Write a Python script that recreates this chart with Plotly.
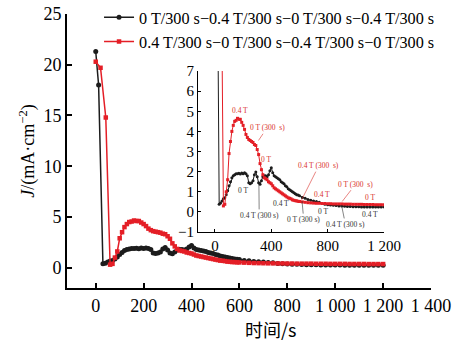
import plotly.graph_objects as go

# ---- data ----
t_black = [0, 12, 30, 40, 50, 60, 70, 80, 90, 100, 110, 120, 130, 140, 150, 160, 170, 180, 190, 200,
           210, 220, 230, 240, 250, 260, 270, 280, 290, 300, 310, 320, 330, 340, 350, 360, 370, 380,
           390, 400, 410, 420, 430, 440, 450, 460, 470, 480, 490, 500, 510, 520, 530, 540, 550, 560,
           570, 580, 590, 600, 620, 640, 660, 680, 700, 720, 740, 760, 780, 800, 820, 840, 860, 880,
           900, 920, 940, 960, 980, 1000, 1020, 1040, 1060, 1080, 1100, 1120, 1140, 1160, 1180, 1200]
j_black = [21.3, 18.0, 0.38, 0.45, 0.55, 0.65, 0.70, 0.85, 1.05, 1.30, 1.50, 1.70, 1.80, 1.85, 1.90,
           1.90, 1.92, 1.88, 1.93, 1.90, 1.95, 1.90, 1.80, 1.45, 1.40, 1.45, 1.55, 1.85, 1.98, 1.75,
           1.45, 1.38, 1.55, 1.75, 1.80, 1.80, 1.75, 1.85, 2.05, 2.20, 1.95, 1.80, 1.75, 1.70, 1.65,
           1.60, 1.50, 1.45, 1.40, 1.30, 1.25, 1.15, 1.10, 1.05, 1.00, 0.95, 0.90, 0.86, 0.84, 0.80,
           0.72, 0.68, 0.62, 0.58, 0.55, 0.52, 0.48, 0.42, 0.38, 0.36, 0.34, 0.33, 0.32, 0.30, 0.29,
           0.28, 0.27, 0.27, 0.26, 0.26, 0.26, 0.25, 0.25, 0.25, 0.25, 0.25, 0.25, 0.25, 0.25, 0.25]

t_red = [0, 20, 42, 60, 70, 80, 90, 100, 110, 120, 130, 140, 150, 160, 170, 180, 190, 200, 210, 220,
         230, 240, 250, 260, 270, 280, 290, 300, 310, 320, 330, 340, 350, 360, 370, 380, 390, 400,
         410, 420, 430, 440, 450, 460, 470, 480, 490, 500, 510, 520, 530, 540, 550, 560, 570, 580,
         590, 600, 620, 640, 660, 680, 700, 720, 740, 760, 780, 800, 820, 840, 860, 880, 900, 920,
         940, 960, 980, 1000, 1020, 1040, 1060, 1080, 1100, 1120, 1140, 1160, 1180, 1200]
j_red = [20.3, 19.7, 14.8, 0.30, 0.38, 1.0, 1.6, 2.9, 3.5, 4.0, 4.3, 4.5, 4.55, 4.65, 4.6, 4.6, 4.45,
         4.3, 4.1, 3.85, 3.7, 3.6, 3.55, 3.5, 3.45, 3.35, 3.3, 3.1, 2.85, 2.4, 2.1, 1.85, 1.7, 1.65,
         1.6, 1.5, 1.45, 1.4, 1.3, 1.2, 1.15, 1.1, 1.05, 1.0, 0.95, 0.9, 0.85, 0.8, 0.75, 0.7, 0.68,
         0.65, 0.6, 0.58, 0.56, 0.55, 0.53, 0.52, 0.50, 0.48, 0.46, 0.45, 0.44, 0.43, 0.43, 0.42,
         0.42, 0.41, 0.41, 0.40, 0.40, 0.40, 0.40, 0.39, 0.39, 0.39, 0.38, 0.38, 0.38, 0.38, 0.37,
         0.37, 0.37, 0.37, 0.36, 0.36, 0.36, 0.36]

name_black = "0 T/300 s\u22120.4 T/300 s\u22120 T/300 s\u22120.4 T/300 s"
name_red = "0.4 T/300 s\u22120 T/300 s\u22120.4 T/300 s\u22120 T/300 s"

main_xticks = [0, 200, 400, 600, 800, 1000, 1200, 1400]
main_xlabels = ["0", "200", "400", "600", "800", "1 000", "1 200", "1 400"]
main_yticks = [0, 5, 10, 15, 20, 25]
inset_xticks = [0, 400, 800, 1200]
inset_xlabels = ["0", "400", "800", "1 200"]
inset_yticks = [-1, 0, 1, 2, 3, 4, 5, 6, 7]
inset_ylabels = ["\u22121", "0", "1", "2", "3", "4", "5", "6", "7"]

BLACK = "#1c1c1c"
RED = "#e41e26"
FONT = "Liberation Serif"

fig = go.Figure()
fig.add_trace(go.Scatter(x=t_black, y=j_black, name=name_black, mode="lines+markers",
                         line=dict(color=BLACK, width=1.5),
                         marker=dict(symbol="circle", size=5, color=BLACK)))
fig.add_trace(go.Scatter(x=t_red, y=j_red, name=name_red, mode="lines+markers",
                         line=dict(color=RED, width=1.5),
                         marker=dict(symbol="square", size=4.5, color=RED)))
fig.add_trace(go.Scatter(x=t_black, y=j_black, xaxis="x2", yaxis="y2", showlegend=False,
                         mode="lines+markers", line=dict(color=BLACK, width=1),
                         marker=dict(symbol="circle", size=3, color=BLACK)))
fig.add_trace(go.Scatter(x=t_red, y=j_red, xaxis="x2", yaxis="y2", showlegend=False,
                         mode="lines+markers", line=dict(color=RED, width=1),
                         marker=dict(symbol="square", size=3, color=RED)))

axis_common = dict(showgrid=False, zeroline=False, showline=True, linecolor="black",
                   ticks="inside", tickcolor="black", mirror=False, ticklabeloverflow="allow")

fig.update_layout(
    width=461, height=342,
    margin=dict(l=67, r=30, t=14, b=54, autoexpand=False),
    paper_bgcolor="white", plot_bgcolor="white",
    font=dict(family=FONT, color="black", size=18),
    xaxis=dict(domain=[0, 1], range=[-120, 1400], tickvals=main_xticks, ticktext=main_xlabels,
               linewidth=2, ticklen=5, tickwidth=1.5, tickfont=dict(size=18), **axis_common),
    yaxis=dict(domain=[0, 1], range=[-2, 25], tickvals=main_yticks,
               linewidth=2, ticklen=5, tickwidth=1.5, tickfont=dict(size=18),
               title=dict(text="<i>J</i>/(mA\u00b7cm<sup>\u22122</sup>)", font=dict(size=18), standoff=4),
               **axis_common),
    xaxis2=dict(domain=[0.36, 0.871], anchor="y2", range=[-120, 1200], tickvals=inset_xticks,
                ticktext=inset_xlabels, linewidth=1, ticklen=3, tickwidth=1,
                tickfont=dict(size=15), **axis_common),
    yaxis2=dict(domain=[0.204, 0.792], anchor="x2", range=[-1, 7], tickvals=inset_yticks,
                ticktext=inset_ylabels, linewidth=1, ticklen=3, tickwidth=1,
                tickfont=dict(size=15), **axis_common),
    legend=dict(x=0.088, y=1.05, xanchor="left", yanchor="top", bgcolor="rgba(0,0,0,0)",
                font=dict(size=16.2), tracegroupgap=0, itemwidth=30),
    showlegend=True,
)

# x-axis title placed as in the reference
fig.add_annotation(text="时间/s", xref="paper", yref="paper", x=0.558, y=-0.095,
                   showarrow=False, font=dict(family="Noto Sans CJK SC", size=18),
                   xanchor="center", yanchor="top")

# inset labels
def lab(text, x, y, color, ax=None, ay=None):
    kw = dict(text=text, xref="x2", yref="y2", font=dict(family=FONT, size=7.5, color=color))
    if ax is None:
        fig.add_annotation(x=x, y=y, showarrow=False, **kw)
    else:
        fig.add_annotation(x=x, y=y, ax=ax, ay=ay, axref="x2", ayref="y2", showarrow=True,
                           arrowhead=0, arrowwidth=0.6, arrowcolor=color, standoff=0, **kw)

R = "#d9302c"
K = "#333333"
lab("0.4 T", 176, 5.05, R)
lab("0 T (300  s)", 309, 3.55, R, 370, 4.18)
lab("0 T", 362, 2.6, R)
lab("0.4 T (300  s)", 615, 0.6, R, 737, 2.3)
lab("0.4 T", 760, 0.85, R)
lab("0 T (300  s)", 903, 0.52, R, 998, 1.38)
lab("0 T", 1100, 0.73, R)

lab("0 T", 200, 1.05, K)
lab("0.4 T (300 s)", 312, 1.35, K, 314, -0.17)
lab("0.4 T", 470, 0.44, K)
lab("0 T (300 s)", 618, 0.55, K, 630, -0.38)
lab("0 T", 768, 0.02, K)
lab("0.4 T (300 s)", 898, 0.35, K, 926, -0.62)
lab("0.4 T", 1103, -0.12, K)

fig.write_html("out.html", config={"displayModeBar": False},
               post_script="document.body.style.margin='0px';")
